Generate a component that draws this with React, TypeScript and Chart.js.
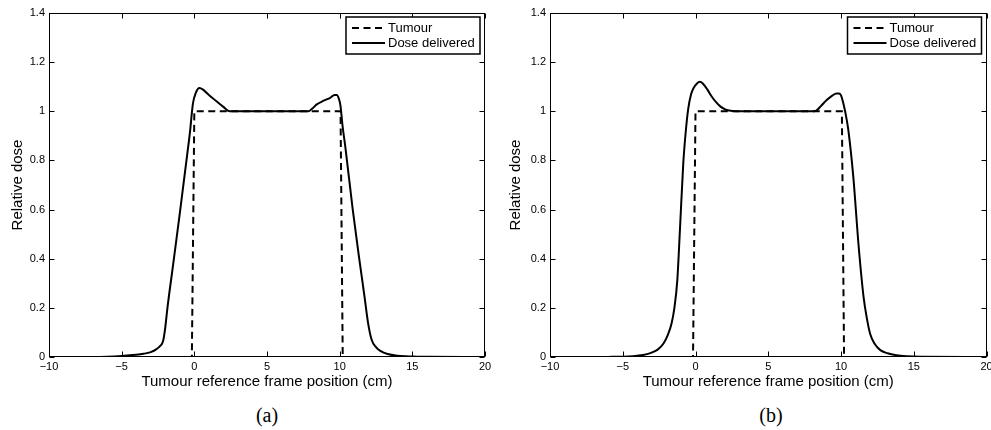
import React, { useEffect, useRef } from "react";
import { Chart, registerables } from "chart.js";

Chart.register(...registerables);

// ---------- data ----------
const xMin = -10;
const xMax = 20;
const xStep = 5;
const yMin = 0;
const yMax = 1.4;
const yStep = 0.2;

const seriesLabels = ["Tumour", "Dose delivered"];
const captions = ["(a)", "(b)"];
const xAxisTitle = "Tumour reference frame position (cm)";
const yAxisTitle = "Relative dose";

const tumourX = [-10, -0.17, 0, 10.06, 10.21, 20];
const tumourY = [0, 0, 1, 1, 0, 0];

const doseAX = [
  -10, -7, -6, -5, -4, -3.5, -3, -2.6, -2.35, -2.15, -2.0, -1.85, -1.45, -1.0,
  -0.5, -0.3, -0.1, 0.1, 0.35, 0.6, 1.0, 1.5, 2.0, 2.3, 2.6, 5, 7.85, 8.1, 8.4,
  8.9, 9.35, 9.65, 9.8, 9.95, 10.05, 10.2, 10.4, 10.9, 11.3, 11.7, 11.95, 12.2,
  12.5, 12.8, 13.3, 14, 15, 16, 20,
];
const doseAY = [
  0, 0, 0.001, 0.004, 0.009, 0.013, 0.02, 0.032, 0.045, 0.065, 0.12, 0.2, 0.38,
  0.585, 0.82, 0.915, 1.03, 1.075, 1.095, 1.088, 1.066, 1.042, 1.018, 1.003, 1.0,
  1.0, 1.0, 1.01, 1.027, 1.043, 1.055, 1.066, 1.066, 1.05, 1.025, 0.94, 0.85,
  0.6, 0.42, 0.25, 0.14, 0.07, 0.04, 0.025, 0.012, 0.005, 0.002, 0.001, 0,
];

const doseBX = [
  -10, -6, -5, -4.3, -3.6, -3.1, -2.6, -2.2, -1.9, -1.65, -1.45, -1.25, -1.07,
  -0.84, -0.65, -0.5, -0.3, -0.1, 0.1, 0.3, 0.5, 0.8, 1.1, 1.4, 1.7, 2.0, 2.3,
  2.8, 5, 8.0, 8.3, 8.6, 9.0, 9.4, 9.7, 9.85, 10.0, 10.15, 10.3, 10.5, 10.85,
  11.2, 11.55, 11.8, 12.0, 12.3, 12.7, 13.2, 13.8, 14.5, 15.5, 20,
];
const doseBY = [
  0, 0.0005, 0.001, 0.003, 0.008, 0.016, 0.03, 0.055, 0.09, 0.135, 0.2, 0.313,
  0.517, 0.789, 0.93, 1.01, 1.07, 1.098, 1.113, 1.12, 1.113, 1.09, 1.061, 1.038,
  1.02, 1.009, 1.003, 1.0, 1.0, 1.0, 1.003, 1.02, 1.045, 1.064, 1.072, 1.072,
  1.065, 1.035, 0.995, 0.925, 0.73, 0.46, 0.245, 0.15, 0.095, 0.055, 0.028,
  0.015, 0.007, 0.003, 0.001, 0,
];

// ---------- styling ----------
const SANS = "'Liberation Sans', Arial, Helvetica, sans-serif";

const framePlugin = {
  id: "matlabFrame",
  afterDraw(chart: any) {
    const { ctx, chartArea: a, scales } = chart;
    const L = Math.round(a.left) + 0.5;
    const R = Math.round(a.right) - 0.5;
    const T = Math.round(a.top) + 0.5;
    const B = Math.round(a.bottom) - 0.5;
    const tl = 5;
    ctx.save();
    ctx.strokeStyle = "#000";
    ctx.lineWidth = 1;
    ctx.setLineDash([]);
    ctx.strokeRect(L, T, R - L, B - T);
    ctx.beginPath();
    scales.x.ticks.forEach((t: any) => {
      const px = Math.round(scales.x.getPixelForValue(t.value)) + 0.5;
      ctx.moveTo(px, B);
      ctx.lineTo(px, B - tl);
      ctx.moveTo(px, T);
      ctx.lineTo(px, T + tl);
    });
    scales.y.ticks.forEach((t: any) => {
      const py = Math.round(scales.y.getPixelForValue(t.value)) + 0.5;
      ctx.moveTo(L, py);
      ctx.lineTo(L + tl, py);
      ctx.moveTo(R, py);
      ctx.lineTo(R - tl, py);
    });
    ctx.stroke();

    // legend box (MATLAB style, top-right inside axes)
    const bw = 134;
    const bh = 37;
    const bx = a.right - 5 - bw;
    const by = a.top + 4;
    ctx.fillStyle = "#fff";
    ctx.fillRect(bx, by, bw, bh);
    ctx.lineWidth = 1.5;
    ctx.strokeRect(bx, by, bw, bh);
    ctx.font = `13px ${SANS}`;
    ctx.textBaseline = "middle";
    ctx.textAlign = "left";
    chart.data.datasets.forEach((ds: any, i: number) => {
      const cy = by + 11 + i * 15;
      ctx.beginPath();
      ctx.lineWidth = ds.borderWidth;
      ctx.setLineDash(ds.borderDash || []);
      ctx.moveTo(bx + 6, cy);
      ctx.lineTo(bx + 39, cy);
      ctx.stroke();
      ctx.setLineDash([]);
      ctx.fillStyle = "#000";
      ctx.fillText(ds.label, bx + 42, cy + 0.5);
    });
    ctx.restore();
  },
};

const fmtX = (v: any) => String(v).replace("-", "\u2212");
const fmtY = (v: any) => String(Math.round(Number(v) * 10) / 10);

type PanelProps = {
  left: number;
  width: number;
  yAxisWidth: number;
  padRight: number;
  yTitlePad: number;
  doseX: number[];
  doseY: number[];
  caption: string;
  captionX: number;
};

function Panel(p: PanelProps) {
  const ref = useRef<HTMLCanvasElement | null>(null);
  useEffect(() => {
    if (!ref.current) return;
    const chart = new Chart(ref.current, {
      type: "line",
      data: {
        datasets: [
          {
            label: seriesLabels[0],
            data: tumourX.map((x, i) => ({ x, y: tumourY[i] })),
            borderColor: "#000",
            borderWidth: 2,
            borderDash: [7, 4.5],
            pointRadius: 0,
            tension: 0,
            fill: false,
          },
          {
            label: seriesLabels[1],
            data: p.doseX.map((x, i) => ({ x, y: p.doseY[i] })),
            borderColor: "#000",
            borderWidth: 2,
            pointRadius: 0,
            cubicInterpolationMode: "monotone",
            fill: false,
          },
        ],
      },
      options: {
        animation: false,
        responsive: false,
        maintainAspectRatio: false,
        events: [],
        layout: { padding: { left: 0, right: p.padRight, top: 13, bottom: 0 } },
        plugins: {
          legend: { display: false },
          tooltip: { enabled: false },
          title: { display: false },
        },
        scales: {
          x: {
            type: "linear",
            min: xMin,
            max: xMax,
            grid: { display: false, drawTicks: false },
            border: { display: false },
            ticks: {
              stepSize: xStep,
              padding: 3,
              color: "#000",
              maxRotation: 0,
              autoSkip: false,
              font: { family: SANS, size: 11 },
              callback: fmtX,
            },
            title: {
              display: true,
              text: xAxisTitle,
              color: "#000",
              font: { family: SANS, size: 15 },
              padding: { top: 0, bottom: 9 },
            },
            afterFit: (s: any) => {
              s.height = 43;
              s.paddingLeft = 0;
              s.paddingRight = 0;
            },
          },
          y: {
            type: "linear",
            min: yMin,
            max: yMax,
            grid: { display: false, drawTicks: false },
            border: { display: false },
            ticks: {
              stepSize: yStep,
              padding: 4,
              color: "#000",
              autoSkip: false,
              font: { family: SANS, size: 11 },
              callback: fmtY,
            },
            title: {
              display: true,
              text: yAxisTitle,
              color: "#000",
              font: { family: SANS, size: 15 },
              padding: { top: p.yTitlePad, bottom: 0 },
            },
            afterFit: (s: any) => {
              s.width = p.yAxisWidth;
              s.paddingTop = 0;
              s.paddingBottom = 0;
            },
          },
        },
      } as any,
      plugins: [framePlugin],
    });
    return () => chart.destroy();
  }, []);

  return (
    <>
      <canvas
        ref={ref}
        width={p.width}
        height={400}
        style={{ position: "absolute", left: p.left, top: 0, width: p.width, height: 400 }}
      />
      <div
        style={{
          position: "absolute",
          left: p.captionX - 40,
          width: 80,
          top: 403,
          textAlign: "center",
          fontFamily: "'Liberation Serif', 'Times New Roman', serif",
          fontSize: 20,
          lineHeight: "24px",
          color: "#000",
        }}
      >
        {p.caption}
      </div>
    </>
  );
}

export default function App() {
  return (
    <div
      style={{
        position: "fixed",
        left: 0,
        top: 0,
        width: 991,
        height: 430,
        background: "#fff",
        overflow: "hidden",
      }}
    >
      <Panel
        left={0}
        width={495}
        yAxisWidth={49}
        padRight={10}
        yTitlePad={8.5}
        doseX={doseAX}
        doseY={doseAY}
        caption={captions[0]}
        captionX={267}
      />
      <Panel
        left={495}
        width={496}
        yAxisWidth={55}
        padRight={4.5}
        yTitlePad={12}
        doseX={doseBX}
        doseY={doseBY}
        caption={captions[1]}
        captionX={771}
      />
    </div>
  );
}
